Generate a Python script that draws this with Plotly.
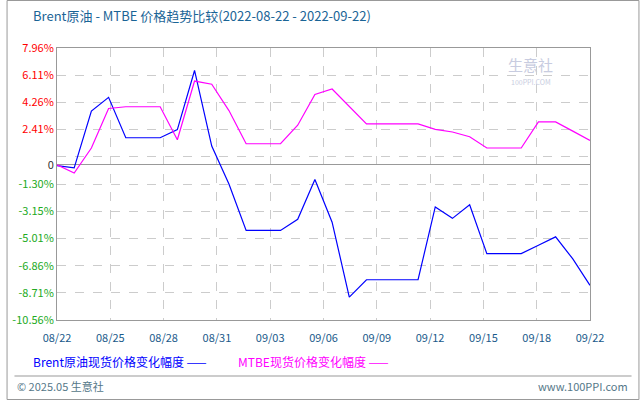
import pandas as pd
import plotly.graph_objects as go

# daily change (%)
dates = pd.date_range("2022-08-22", "2022-09-22", freq="D")
brent = [-0.05, -0.2, 3.66, 4.6, 1.85, 1.85, 1.85, 2.4, 6.43, 1.28, -1.3, -4.46, -4.46, -4.46,
         -3.7, -1.0, -3.9, -9.0, -7.82, -7.82, -7.82, -7.82, -2.86, -3.64, -2.72, -6.04, -6.04,
         -6.04, -5.47, -4.9, -6.4, -8.2]
mtbe = [0.0, -0.55, 1.15, 3.84, 3.96, 3.96, 3.96, 1.71, 5.71, 5.49, 3.7, 1.44, 1.44, 1.44,
        2.7, 4.8, 5.17, 4.0, 2.79, 2.79, 2.79, 2.79, 2.42, 2.24, 1.92, 1.15, 1.15, 1.15,
        2.93, 2.93, 2.3, 1.67]

y_ticks = [7.96, 6.11, 4.26, 2.41, 0.56, 0, -1.30, -3.15, -5.01, -6.86, -8.71, -10.56]
x_labels = ["08/22", "08/25", "08/28", "08/31", "09/03", "09/06", "09/09", "09/12", "09/15", "09/18", "09/22"]

FONT = "Noto Sans CJK SC"
L, R, T, B = 51, 590, 48, 320
W, H = 640, 400


def px(x):
    return (x - L) / (R - L)


def py(y):
    return (B - y) / (B - T)


def ylabel(v):
    if v == 0.56:
        return ""
    if v == 0:
        return "0"
    col = "#ff0000" if v > 0 else "#22aa22"
    return f'<span style="color:{col}">{v:.2f}%</span>'


span = (dates[-1] - dates[0]) / (len(x_labels) - 1)
x_tickvals = [dates[0] + span * i for i in range(len(x_labels))]

fig = go.Figure()
fig.add_trace(go.Scatter(x=dates, y=brent, mode="lines", line=dict(color="#0000ff", width=1.2)))
fig.add_trace(go.Scatter(x=dates, y=mtbe, mode="lines", line=dict(color="#ff00ff", width=1.2)))

fig.update_xaxes(range=[dates[0], dates[-1]], tickvals=x_tickvals, ticktext=x_labels,
                 showgrid=True, gridcolor="#cccccc", griddash="dash", gridwidth=1,
                 tickfont=dict(family=FONT, size=11, color="#1a5a8a"), ticks="",
                 ticklabelstandoff=8,
                 showline=True, linecolor="#999999", mirror=True, zeroline=False)
fig.update_yaxes(range=[-10.56, 7.96], tickvals=y_ticks, ticktext=[ylabel(v) for v in y_ticks],
                 showgrid=True, gridcolor="#cccccc", griddash="dash", gridwidth=1,
                 tickfont=dict(family=FONT, size=11, color="#333333"), ticks="",
                 showline=True, linecolor="#999999", mirror=True,
                 zeroline=True, zerolinecolor="#999999", zerolinewidth=1)

ann = [
    dict(x=px(25), y=py(16), text="Brent原油 - MTBE 价格趋势比较(2022-08-22 - 2022-09-22)",
         xanchor="left", font=dict(size=13, color="#1a6496")),
    dict(x=px(25), y=py(361), text="Brent原油现货价格变化幅度 ——", xanchor="left",
         font=dict(size=12, color="#0000ff")),
    dict(x=px(232), y=py(361), text="MTBE现货价格变化幅度 ——", xanchor="left",
         font=dict(size=12, color="#ff00ff")),
    dict(x=px(9), y=py(386), text="© 2025.05 生意社", xanchor="left",
         font=dict(size=11, color="#557788")),
    dict(x=px(630), y=py(386), text="www.100PPI.com", xanchor="right",
         font=dict(size=11, color="#557788")),
    dict(x=px(530), y=py(64), text="生意社", xanchor="center",
         font=dict(size=15, color="#c8cce0")),
    dict(x=px(530), y=py(82), text="100PPI.COM", xanchor="center",
         font=dict(size=7, color="#c8cce0")),
]
for a in ann:
    a.update(xref="paper", yref="paper", showarrow=False, yanchor="middle")
    a["font"]["family"] = FONT

shapes = [
    dict(type="rect", xref="paper", yref="paper", x0=px(0.5), x1=px(W - 0.5), y0=py(0.5), y1=py(H - 0.5),
         line=dict(color="#999999", width=1)),
    dict(type="line", xref="paper", yref="paper", x0=px(8), x1=px(632), y0=py(376), y1=py(376),
         line=dict(color="#999999", width=1)),
]

fig.update_layout(width=W, height=H, margin=dict(l=L, r=W - R, t=T, b=H - B),
                  plot_bgcolor="white", paper_bgcolor="white", showlegend=False,
                  annotations=ann, shapes=shapes, font=dict(family=FONT))
fig.write_html("out.html", config={"displayModeBar": False},
               post_script="document.body.style.margin='0';")
